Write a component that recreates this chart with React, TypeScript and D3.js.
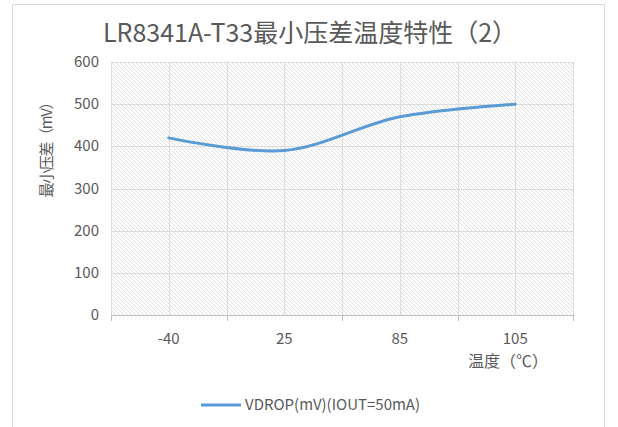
import * as React from 'react';
import * as d3 from 'd3';

const categories = ['-40', '25', '85', '105'];
const vdrop = [420, 390, 470, 500];
const yTicks = [0, 100, 200, 300, 400, 500, 600];
const seriesName = 'VDROP(mV)(IOUT=50mA)';

const W = 618;
const H = 427;
const margin = { top: 62, right: 45, bottom: 112, left: 111 };

const App = () => {
  const ref = React.useRef<SVGSVGElement>(null);

  React.useEffect(() => {
    const svg = d3.select(ref.current);
    svg.selectAll('*').remove();

    const innerW = W - margin.left - margin.right;
    const innerH = H - margin.top - margin.bottom;
    const font = "'Noto Sans CJK SC', 'Open Sans', sans-serif";
    const textColor = '#595959';

    const x = d3.scaleBand<string>().domain(categories).range([0, innerW]);
    const y = d3.scaleLinear().domain([0, 600]).range([innerH, 0]);

    // hatch pattern
    const defs = svg.append('defs');
    const pat = defs
      .append('pattern')
      .attr('id', 'hatch')
      .attr('patternUnits', 'userSpaceOnUse')
      .attr('width', 4)
      .attr('height', 4);
    pat
      .append('path')
      .attr('d', 'M-1,-1 L5,5 M3,-1 L5,1 M-1,3 L1,5')
      .attr('stroke', '#e0e0e0')
      .attr('stroke-width', 1);

    // outer frame
    svg
      .append('rect')
      .attr('x', 12.5)
      .attr('y', 4.5)
      .attr('width', 592)
      .attr('height', 430)
      .attr('fill', '#fff')
      .attr('stroke', '#d9d9d9');

    svg
      .append('text')
      .attr('x', 310)
      .attr('y', 42)
      .attr('text-anchor', 'middle')
      .attr('font-family', font)
      .attr('font-size', 25)
      .attr('fill', textColor)
      .text('LR8341A-T33最小压差温度特性（2）');

    const g = svg
      .append('g')
      .attr('transform', `translate(${margin.left},${margin.top})`);

    g.append('rect')
      .attr('width', innerW)
      .attr('height', innerH)
      .attr('fill', 'url(#hatch)');

    // horizontal grid
    g.selectAll('.hgrid')
      .data(yTicks)
      .join('line')
      .attr('x1', 0)
      .attr('x2', innerW)
      .attr('y1', (d) => Math.round(y(d)) + 0.5)
      .attr('y2', (d) => Math.round(y(d)) + 0.5)
      .attr('stroke', '#dcdcdc');

    // vertical grid at half-category steps
    const bw = x.bandwidth();
    const vlines = d3.range(categories.length * 2 + 1).map((i) => (i * bw) / 2);
    g.selectAll('.vgrid')
      .data(vlines)
      .join('line')
      .attr('x1', (d) => Math.round(d) + 0.5)
      .attr('x2', (d) => Math.round(d) + 0.5)
      .attr('y1', 0)
      .attr('y2', innerH)
      .attr('stroke', '#dcdcdc');

    // x axis
    const xAxis = g.append('g').attr('transform', `translate(0,${innerH})`);
    xAxis
      .append('line')
      .attr('x1', 0)
      .attr('x2', innerW)
      .attr('y1', 0.5)
      .attr('y2', 0.5)
      .attr('stroke', '#bfbfbf');
    xAxis
      .selectAll('.tick')
      .data(d3.range(categories.length + 1))
      .join('line')
      .attr('x1', (i) => Math.round(i * bw) + 0.5)
      .attr('x2', (i) => Math.round(i * bw) + 0.5)
      .attr('y1', 0)
      .attr('y2', 6)
      .attr('stroke', '#bfbfbf');
    xAxis
      .selectAll('.lbl')
      .data(categories)
      .join('text')
      .attr('x', (d) => (x(d) as number) + bw / 2)
      .attr('y', 29)
      .attr('text-anchor', 'middle')
      .attr('font-family', font)
      .attr('font-size', 15)
      .attr('fill', textColor)
      .text((d) => d);

    // y labels
    g.selectAll('.ylbl')
      .data(yTicks)
      .join('text')
      .attr('x', -12)
      .attr('y', (d) => y(d) + 5)
      .attr('text-anchor', 'end')
      .attr('font-family', font)
      .attr('font-size', 15)
      .attr('fill', textColor)
      .text((d) => d);

    // axis titles
    svg
      .append('text')
      .attr('transform', 'translate(52,146) rotate(-90)')
      .attr('text-anchor', 'middle')
      .attr('font-family', font)
      .attr('font-size', 15)
      .attr('fill', textColor)
      .attr('textLength', 103)
      .attr('lengthAdjust', 'spacing')
      .text('最小压差（mV）');

    svg
      .append('text')
      .attr('x', 548)
      .attr('y', 367)
      .attr('text-anchor', 'end')
      .attr('font-family', font)
      .attr('font-size', 16)
      .attr('fill', textColor)
      .text('温度（℃）');

    // series
    const line = d3
      .line<number>()
      .x((_, i) => (x(categories[i]) as number) + bw / 2)
      .y((d) => y(d))
      .curve(d3.curveCatmullRom.alpha(0.5));

    g.append('path')
      .datum(vdrop)
      .attr('fill', 'none')
      .attr('stroke', '#5b9bd5')
      .attr('stroke-width', 3)
      .attr('stroke-linecap', 'round')
      .attr('d', line);

    // legend
    svg
      .append('line')
      .attr('x1', 201)
      .attr('x2', 241)
      .attr('y1', 405)
      .attr('y2', 405)
      .attr('stroke', '#5b9bd5')
      .attr('stroke-width', 3);
    svg
      .append('text')
      .attr('x', 245)
      .attr('y', 410)
      .attr('font-family', font)
      .attr('font-size', 15)
      .attr('fill', textColor)
      .text(seriesName);
  }, []);

  return (
    <svg
      ref={ref}
      width={W}
      height={H}
      style={{ position: 'absolute', left: 0, top: 0, background: '#fff' }}
    />
  );
};

export default App;
